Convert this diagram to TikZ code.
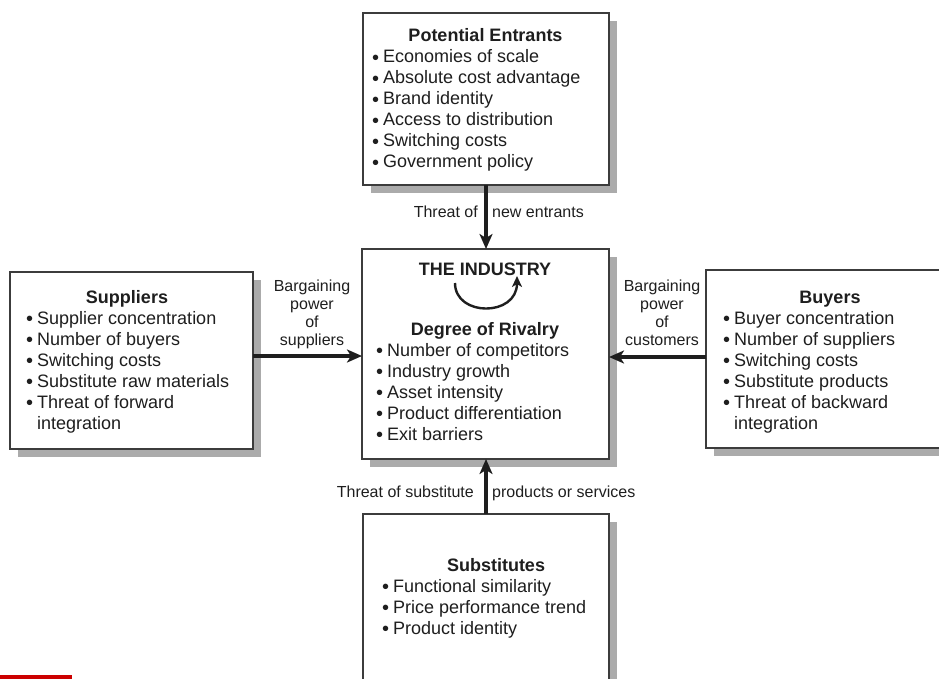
\documentclass[tikz,border=0pt]{standalone}
\usepackage{fontspec}
\setmainfont{Liberation Sans}
\usetikzlibrary{arrows.meta,shadows}
\definecolor{ink}{HTML}{1E1E1E}
\definecolor{frame}{HTML}{3C3C3C}
\definecolor{shade}{HTML}{ABABAB}
\newcommand\bul{\makebox[11pt][l]{\raisebox{-1.5pt}{\fontsize{20}{20}\selectfont\textbullet}}}
\tikzset{
  box/.style={draw=frame,line width=2pt,fill=white,anchor=north west,inner sep=0pt,outer sep=0pt,
    copy shadow={shadow xshift=8pt,shadow yshift=-8pt,fill=shade,draw=none}},
  item/.style={anchor=base west,inner sep=0pt,text=ink,font=\fontsize{18}{21}\selectfont},
  head/.style={anchor=base,inner sep=0pt,text=ink,font=\fontsize{18}{21}\selectfont\bfseries},
  lbl/.style={inner sep=0pt,text=ink,font=\fontsize{16}{18}\selectfont},
  arr/.style={line width=3.2pt,draw=ink,-{Stealth[length=15pt,width=13pt,inset=4pt]}}
}
\begin{document}
\begin{tikzpicture}[x=1pt,y=-1pt]
\useasboundingbox (0,0) rectangle (939,679);
\clip (0,0) rectangle (939,679);
\node[box,minimum width=246pt,minimum height=172pt] (pe) at (363,13) {};
\node[box,minimum width=247pt,minimum height=210pt] (ind) at (362,249) {};
\node[box,minimum width=243pt,minimum height=177pt] (sup) at (10,272) {};
\node[box,minimum width=250pt,minimum height=178pt] (buy) at (706,270) {};
\node[box,minimum width=246pt,minimum height=200pt] (sub) at (363,514) {};
\node[head] (peh) at (485.5,42) {Potential Entrants};
\foreach \t [count=\i] in {Economies of scale,Absolute cost advantage,Brand identity,Access to distribution,Switching costs,Government policy}
  \node[item] (pe\i) at (372,{42+21*\i}) {\bul\t};
\node[head] (indh) at (485,275) {THE INDUSTRY};
\node[head] (rivh) at (485,335) {Degree of Rivalry};
\foreach \t [count=\i] in {Number of competitors,Industry growth,Asset intensity,Product differentiation,Exit barriers}
  \node[item] (riv\i) at (376,{335+21*\i}) {\bul\t};
\node[head] (suph) at (127,303) {Suppliers};
\foreach \t [count=\i] in {Supplier concentration,Number of buyers,Switching costs,Substitute raw materials,Threat of forward}
  \node[item] (sup\i) at (26,{303+21*\i}) {\bul\t};
\node[item] (sup6) at (37,429) {integration};
\node[head] (buyh) at (830,303) {Buyers};
\foreach \t [count=\i] in {Buyer concentration,Number of suppliers,Switching costs,Substitute products,Threat of backward}
  \node[item] (buy\i) at (723,{303+21*\i}) {\bul\t};
\node[item] (buy6) at (734,429) {integration};
\node[head] (subh) at (496,571) {Substitutes};
\foreach \t [count=\i] in {Functional similarity,Price performance trend,Product identity}
  \node[item] (sub\i) at (382,{571+21*\i}) {\bul\t};
\coordinate (cyca) at (455,283);
\coordinate (cycb) at (517,276);
\draw[line width=2.4pt,draw=ink,-{Stealth[length=11pt,width=10pt,inset=3pt]}] (cyca) .. controls (455,317) and (517,317) .. (cycb);
\coordinate (indw) at ([yshift=-2pt]ind.west);
\coordinate (inde) at ([yshift=-3pt]ind.east);
\draw[arr] (pe.south) -- (pe.south |- ind.north);
\draw[arr] (sub.north) -- (sub.north |- ind.south);
\draw[arr] (sup.east |- indw) -- (indw);
\draw[arr] (buy.west |- inde) -- (inde);
\node[lbl,anchor=base east] (thr1) at (478,218) {Threat of};
\node[lbl,anchor=base west] (thr2) at (492,218) {new entrants};
\node[lbl,anchor=base east] (sbs1) at (474,497) {Threat of substitute};
\node[lbl,anchor=base west] (sbs2) at (492,497) {products or services};
\node[lbl,align=center,anchor=north] (bps) at (312,280) {Bargaining\\power\\of\\suppliers};
\node[lbl,align=center,anchor=north] (bpc) at (662,280) {Bargaining\\power\\of\\customers};
\fill[red!80!black] (0,675) rectangle (72,680);
\end{tikzpicture}
\end{document}
